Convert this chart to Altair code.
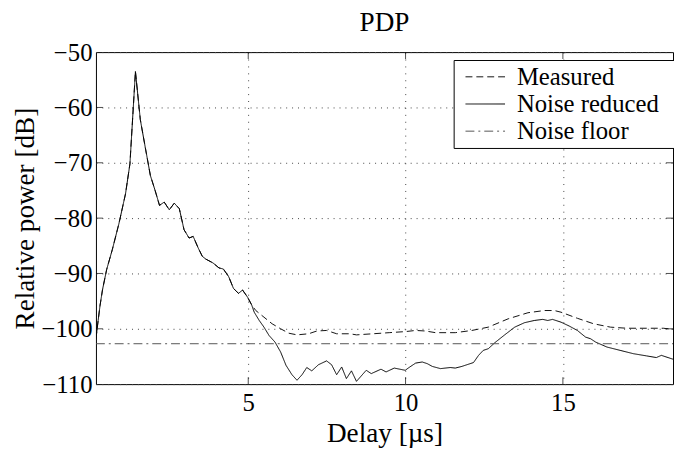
import altair as alt
import pandas as pd

chart_title = "PDP"
x_title = "Delay [µs]"
y_title = "Relative power [dB]"
series_names = ["Measured", "Noise reduced", "Noise floor"]

# Noise reduced PDP (solid)
nr_x = [0.16, 0.23, 0.29, 0.37, 0.50, 0.68, 0.89, 1.10, 1.24, 1.415, 1.57, 1.73, 1.89,
        2.04, 2.18, 2.33, 2.49, 2.65, 2.81, 2.96, 3.12, 3.25, 3.41, 3.54, 3.65, 3.88,
        4.07, 4.21, 4.38, 4.53, 4.69, 4.82, 4.98, 5.11, 5.19, 5.35, 5.50, 5.66, 5.85,
        6.03, 6.20, 6.39, 6.55, 6.71, 6.86, 7.02, 7.23, 7.49, 7.65, 7.81, 7.97, 8.12,
        8.28, 8.44, 8.75, 8.91, 9.22, 9.38, 9.64, 9.99, 10.11, 10.32, 10.53, 10.69,
        10.85, 11.11, 11.42, 11.58, 11.79, 12.16, 12.32, 12.47, 12.63, 12.84, 13.15,
        13.47, 13.78, 14.09, 14.36, 14.52, 14.67, 14.94, 15.20, 15.46, 15.72, 15.88,
        16.04, 16.40, 16.82, 17.24, 17.66, 17.97, 18.13, 18.50]
nr_y = [-101.8, -98.5, -95.8, -92.9, -89.3, -85.7, -81.0, -75.6, -70.2, -53.5, -62.2,
        -67.3, -72.3, -75.0, -77.7, -77.1, -78.5, -77.3, -78.3, -82.1, -83.6, -83.3,
        -85.4, -86.9, -87.4, -88.1, -89.0, -89.2, -90.6, -92.7, -93.6, -93.0, -94.3,
        -95.7, -97.0, -98.5, -99.7, -101.2, -102.4, -104.2, -106.6, -108.3, -109.3,
        -108.3, -107.0, -107.6, -106.5, -105.8, -106.5, -108.3, -106.9, -109.0, -107.6,
        -109.5, -107.5, -108.1, -107.3, -107.8, -107.1, -107.5, -107.0, -106.2, -106.0,
        -106.3, -106.8, -107.2, -107.0, -107.1, -106.8, -106.1, -104.8, -103.9, -103.6,
        -102.5, -101.1, -99.7, -98.9, -98.5, -98.3, -98.5, -98.3, -98.8, -99.5, -100.3,
        -101.5, -101.8, -102.4, -103.3, -103.9, -104.5, -104.9, -105.2, -104.8, -105.5]

# Measured PDP (dashed)
meas_x = [0.16, 0.23, 0.29, 0.37, 0.50, 0.68, 0.89, 1.10, 1.24, 1.415, 1.57, 1.73, 1.89,
          2.04, 2.18, 2.33, 2.49, 2.65, 2.81, 2.96, 3.12, 3.25, 3.41, 3.54, 3.65, 3.88,
          4.07, 4.21, 4.38, 4.53, 4.69, 4.82, 4.98, 5.11, 5.24, 5.50, 5.76, 6.03, 6.29,
          6.55, 6.92, 7.18, 7.49, 7.81, 8.23, 8.44, 8.96, 9.48, 10.01, 10.32, 10.64,
          10.95, 11.58, 12.11, 12.63, 13.26, 13.89, 14.41, 14.73, 14.94, 15.46, 15.98,
          16.51, 17.03, 17.66, 18.19, 18.50]
meas_y = [-101.8, -98.5, -95.8, -92.9, -89.3, -85.7, -81.0, -75.6, -70.2, -53.5, -62.2,
          -67.3, -72.3, -75.0, -77.7, -77.1, -78.5, -77.3, -78.3, -82.1, -83.6, -83.3,
          -85.4, -86.9, -87.4, -88.1, -89.0, -89.2, -90.6, -92.7, -93.6, -93.0, -94.3,
          -95.7, -96.7, -97.9, -99.1, -100.0, -100.8, -101.1, -100.9, -100.4, -100.3,
          -100.9, -100.9, -101.1, -100.9, -100.7, -100.5, -100.3, -100.4, -100.7, -100.7,
          -100.3, -99.7, -98.2, -97.1, -96.7, -96.7, -97.0, -98.1, -99.1, -99.7, -99.9,
          -99.9, -99.9, -100.1]

# Noise floor (dash-dot)
floor_x = [0.16, 18.50]
floor_y = [-102.7, -102.7]

x_domain = [0.16, 18.5]
y_domain = [-110, -50]
x_ticks = [5, 10, 15]
y_ticks = [-110, -100, -90, -80, -70, -60, -50]
inner_y_ticks = [-100, -90, -80, -70, -60]

rows = []
for xs, ys, name in [(meas_x, meas_y, "Measured"), (nr_x, nr_y, "Noise reduced"),
                     (floor_x, floor_y, "Noise floor")]:
    for a, b in zip(xs, ys):
        rows.append({"x": a, "y": b, "series": name})
df = pd.DataFrame(rows)

W, H = 584, 336
FONT = "Liberation Serif"

x_scale = alt.Scale(domain=x_domain, nice=False, zero=False)
y_scale = alt.Scale(domain=y_domain, nice=False, zero=False)
x_axis = alt.Axis(values=x_ticks, title=x_title, grid=True, gridDash=[1, 6],
                  labelPadding=7, titlePadding=4)
y_axis = alt.Axis(values=y_ticks, title=y_title, grid=True, gridDash=[1, 5],
                  labelPadding=4, titlePadding=2)

legend = alt.Legend(title=".", titleOrient="right", titleColor="white", titleFontSize=2,
                    titlePadding=12,
                    orient="none", legendX=362, legendY=8,
                    strokeColor="black", fillColor="white", padding=4,
                    symbolType="M-1.6,0H1.6", symbolSize=625, symbolStrokeWidth=1,
                    symbolOffset=15, labelOffset=19, rowPadding=1.5,
                    labelFont=FONT, labelFontSize=25, labelColor="black")

lines = alt.Chart(df).mark_line(strokeWidth=1, clip=True).encode(
    x=alt.X("x:Q", scale=x_scale, axis=x_axis),
    y=alt.Y("y:Q", scale=y_scale, axis=y_axis),
    color=alt.Color("series:N", scale=alt.Scale(domain=series_names,
                    range=["#111111", "#000000", "#555555"]), legend=legend),
    strokeDash=alt.StrokeDash("series:N", scale=alt.Scale(domain=series_names,
                              range=[[7, 4], [1, 0], [9, 4, 2, 4]]), legend=legend),
)

xt_df = pd.DataFrame({"x": x_ticks})
yt_df = pd.DataFrame({"y": inner_y_ticks})
tick_style = dict(size=14, thickness=1, color="black", clip=True)
xt_bottom = alt.Chart(xt_df).mark_tick(orient="vertical", **tick_style).encode(
    x=alt.X("x:Q", scale=x_scale, axis=x_axis), y=alt.value(H))
xt_top = alt.Chart(xt_df).mark_tick(orient="vertical", **tick_style).encode(
    x=alt.X("x:Q", scale=x_scale, axis=x_axis), y=alt.value(0))
yt_left = alt.Chart(yt_df).mark_tick(orient="horizontal", **tick_style).encode(
    y=alt.Y("y:Q", scale=y_scale, axis=y_axis), x=alt.value(0))
yt_right = alt.Chart(yt_df).mark_tick(orient="horizontal", **tick_style).encode(
    y=alt.Y("y:Q", scale=y_scale, axis=y_axis), x=alt.value(W))

chart = alt.layer(lines, xt_bottom, xt_top, yt_left, yt_right).properties(
    width=W, height=H,
    title=alt.TitleParams(chart_title, font=FONT, fontSize=27.5, fontWeight="normal",
                          color="black", anchor="middle", offset=4),
    padding={"left": 89, "top": 42, "right": 1, "bottom": 62},
    autosize=alt.AutoSizeParams(type="none"),
).configure_view(stroke="black", strokeWidth=1).configure_axis(
    labelFont=FONT, labelFontSize=25, labelColor="black",
    titleFont=FONT, titleFontSize=27.5, titleFontWeight="normal", titleColor="black",
    domain=False, ticks=False, tickSize=0, gridColor="#444444", gridOpacity=1,
    gridWidth=1,
)

chart.save("out.html", embed_options={"renderer": "svg", "actions": False})
